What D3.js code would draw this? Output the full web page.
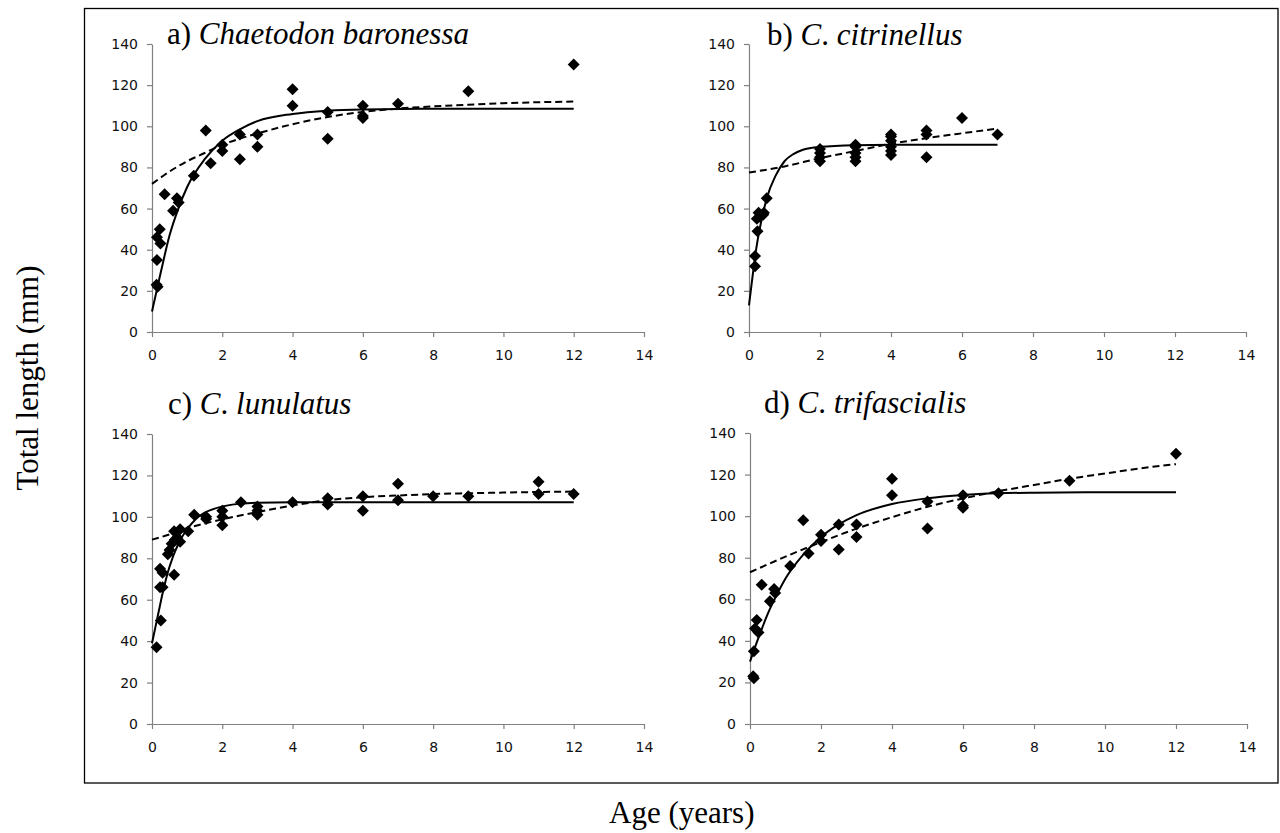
<!DOCTYPE html>
<html>
<head>
<meta charset="utf-8">
<script src="https://cdn.jsdelivr.net/npm/d3@7"></script>
<style>
  html, body { margin: 0; padding: 0; background: #fff; }
  svg { display: block; }
</style>
</head>
<body>
<svg id="chart" width="1280" height="833"></svg>
<script>
// ---------------- DATA ----------------
const xTicks = [0, 2, 4, 6, 8, 10, 12, 14];
const yTicks = [0, 20, 40, 60, 80, 100, 120, 140];

// a) Chaetodon baronessa
const baronessaAge = [0.13, 0.16, 0.14, 0.14, 0.22, 0.24, 0.36, 0.6, 0.71, 0.76, 1.19, 1.53, 1.67, 2, 2, 2.5, 2.5, 3, 3, 4, 4, 5, 5, 6, 6, 6, 7, 9, 12];
const baronessaTL  = [23, 22, 35, 46, 50, 43, 67, 59, 65, 63, 76, 98, 82, 91, 88, 96, 84, 96, 90, 118, 110, 107, 94, 110, 104, 105, 111, 117, 130];
const baronessaSolidAge = [0, 0.25, 0.5, 0.75, 1, 1.5, 2, 2.5, 3, 4, 5, 6, 8, 12];
const baronessaSolidTL  = [10, 29, 47, 60, 70.5, 84, 93, 98.5, 102.5, 106, 107.6, 108.2, 108.5, 108.5];
const baronessaDashAge = [0, 0.5, 1, 1.5, 2, 2.5, 3, 4, 5, 6, 7, 8, 9, 10, 11, 12];
const baronessaDashTL  = [72, 78, 83, 87, 91, 94, 96.5, 101, 104.5, 107, 108.6, 109.7, 110.5, 111.2, 111.7, 112];

// b) C. citrinellus
const citrinellusAge = [0.17, 0.17, 0.24, 0.22, 0.27, 0.31, 0.4, 0.42, 0.5, 2, 2, 2, 2, 3, 3, 3, 3, 3, 4, 4, 4, 4, 4, 4, 5, 5, 5, 6, 7];
const citrinellusTL  = [32, 37, 49, 55, 58, 56, 57, 58, 65, 83, 85, 87, 89, 83, 85, 87, 90, 91, 86, 88, 90, 93, 95, 96, 98, 96, 85, 104, 96];
const citrinellusSolidAge = [0, 0.1, 0.2, 0.3, 0.4, 0.5, 0.75, 1, 1.25, 1.5, 2, 3, 4, 7];
const citrinellusSolidTL  = [13, 27, 40, 50, 58, 65, 76, 83, 86.5, 88.5, 90, 90.8, 91, 91];
const citrinellusDashAge = [0, 1, 2, 3, 4, 5, 6, 7];
const citrinellusDashTL  = [77.5, 80.5, 84.5, 88, 91.5, 94.2, 96.6, 98.9];

// c) C. lunulatus
const lunulatusAge = [0.13, 0.25, 0.23, 0.3, 0.23, 0.3, 0.45, 0.5, 0.63, 0.56, 0.65, 0.72, 0.8, 0.63, 0.8, 1.03, 1.2, 1.54, 1.54, 2, 2, 2, 2.53, 3, 3, 3, 4, 5, 5, 6, 6, 7, 7, 8, 9, 11, 11, 12];
const lunulatusTL  = [37, 50, 66, 66, 75, 73, 82, 84, 72, 87, 89, 90, 88, 93, 94, 93, 101, 100, 99, 96, 100, 103, 107, 101, 103, 105, 107, 109, 106, 110, 103, 116, 108, 110, 110, 117, 111, 111];
const lunulatusSolidAge = [0, 0.1, 0.2, 0.3, 0.4, 0.5, 0.75, 1, 1.25, 1.5, 2, 2.5, 3, 4, 12];
const lunulatusSolidTL  = [39, 47, 55, 63, 70, 76, 87, 94, 99, 102, 105, 106.3, 106.8, 107, 107];
const lunulatusDashAge = [0, 0.5, 1, 1.5, 2, 3, 4, 5, 6, 7, 8, 9, 10, 11, 12];
const lunulatusDashTL  = [89, 91.5, 94.5, 96.8, 98.8, 102.3, 105.5, 108, 109.5, 110.3, 111, 111.4, 111.7, 112, 112.2];

// d) C. trifascialis
const trifascialisAge = [0.09, 0.11, 0.11, 0.14, 0.19, 0.24, 0.33, 0.56, 0.68, 0.71, 1.13, 1.5, 1.65, 2, 2, 2.5, 2.5, 3, 3, 4, 4, 5, 5, 6, 6, 6, 7, 9, 12];
const trifascialisTL  = [23, 22, 35, 46, 50, 44, 67, 59, 65, 63, 76, 98, 82, 91, 88, 96, 84, 96, 90, 118, 110, 107, 94, 110, 104, 105, 111, 117, 130];
const trifascialisSolidAge = [0, 0.25, 0.5, 0.75, 1, 1.5, 2, 2.5, 3, 4, 5, 6, 7, 8, 10, 12];
const trifascialisSolidTL  = [30, 42, 53, 62, 70, 81.5, 90, 96, 100.5, 105.8, 108.6, 110.2, 111, 111.3, 111.5, 111.5];
const trifascialisDashAge = [0, 1, 2, 3, 4, 5, 6, 7, 8, 9, 10, 11, 12];
const trifascialisDashTL  = [73, 80.5, 87.5, 94, 99.5, 104.5, 108.5, 112, 115, 118, 120.5, 123, 125];

const panelLabels = ["a) ", "b) ", "c) ", "d) "];
const panelGenus = ["Chaetodon baronessa", "C", "C", "C"];
const panelSpecies = ["", "citrinellus", "lunulatus", "trifascialis"];

// ---------------- DRAWING ----------------
const svg = d3.select("#chart");
const AXIS_COLOR = "#808080";
const SERIF = "'Liberation Serif', 'Times New Roman', serif";
const zip = (a, b) => a.map((v, i) => [v, b[i]]);

const panels = [
  { pts: zip(baronessaAge, baronessaTL), solid: zip(baronessaSolidAge, baronessaSolidTL), dash: zip(baronessaDashAge, baronessaDashTL),
    x: [152, 644], y: [332, 44], tx: 167, ty: 44 },
  { pts: zip(citrinellusAge, citrinellusTL), solid: zip(citrinellusSolidAge, citrinellusSolidTL), dash: zip(citrinellusDashAge, citrinellusDashTL),
    x: [749, 1246], y: [332, 44], tx: 767, ty: 45 },
  { pts: zip(lunulatusAge, lunulatusTL), solid: zip(lunulatusSolidAge, lunulatusSolidTL), dash: zip(lunulatusDashAge, lunulatusDashTL),
    x: [152, 644], y: [724, 434], tx: 168, ty: 414 },
  { pts: zip(trifascialisAge, trifascialisTL), solid: zip(trifascialisSolidAge, trifascialisSolidTL), dash: zip(trifascialisDashAge, trifascialisDashTL),
    x: [750, 1247], y: [724, 433], tx: 764, ty: 413 }
];

// outer frame
svg.append("rect")
  .attr("x", 84.5).attr("y", 8.5)
  .attr("width", 1278 - 84.5).attr("height", 783 - 8.5)
  .attr("fill", "none").attr("stroke", "#000").attr("stroke-width", 1.3);

const diamond = "M0,-6L6,0L0,6L-6,0Z";

panels.forEach((p, i) => {
  const x = d3.scaleLinear().domain([0, 14]).range(p.x);
  const y = d3.scaleLinear().domain([0, 140]).range(p.y);
  const g = svg.append("g");

  const yAxis = g.append("g")
    .attr("transform", `translate(${p.x[0]},0)`)
    .call(d3.axisLeft(y).tickValues(yTicks).tickSize(5).tickSizeOuter(0).tickPadding(9));
  const xAxis = g.append("g")
    .attr("transform", `translate(0,${p.y[0]})`)
    .call(d3.axisBottom(x).tickValues(xTicks).tickSize(5).tickSizeOuter(0).tickPadding(13));
  [yAxis, xAxis].forEach(a => {
    a.select(".domain").attr("stroke", AXIS_COLOR).attr("stroke-width", 1.2);
    a.selectAll(".tick line").attr("stroke", AXIS_COLOR).attr("stroke-width", 1.2);
    a.selectAll(".tick text").attr("fill", "#111")
      .style("font-family", "'DejaVu Sans', Verdana, sans-serif").style("font-size", "14px");
  });

  const line = d3.line().x(d => x(d[0])).y(d => y(d[1])).curve(d3.curveMonotoneX);

  g.append("path").datum(p.dash).attr("d", line)
    .attr("fill", "none").attr("stroke", "#000").attr("stroke-width", 2).attr("stroke-dasharray", "7,4");
  g.append("path").datum(p.solid).attr("d", line)
    .attr("fill", "none").attr("stroke", "#000").attr("stroke-width", 2);

  g.selectAll("path.pt").data(p.pts).join("path")
    .attr("class", "pt")
    .attr("d", diamond)
    .attr("transform", d => `translate(${x(d[0])},${y(d[1])})`)
    .attr("fill", "#000");

  const t = g.append("text")
    .attr("x", p.tx).attr("y", p.ty)
    .style("font-family", SERIF)
    .style("font-size", "31px").attr("fill", "#000");
  t.append("tspan").text(panelLabels[i]);
  t.append("tspan").style("font-style", "italic").text(panelGenus[i]);
  if (panelSpecies[i]) {
    t.append("tspan").text(". ");
    t.append("tspan").style("font-style", "italic").text(panelSpecies[i]);
  }
});

// axis titles
svg.append("text")
  .attr("transform", "translate(38,378) rotate(-90)")
  .attr("text-anchor", "middle")
  .style("font-family", SERIF)
  .style("font-size", "31px").text("Total length (mm)");

svg.append("text")
  .attr("x", 609).attr("y", 823)
  .style("font-family", SERIF)
  .style("font-size", "31px").text("Age (years)");
</script>
</body>
</html>
